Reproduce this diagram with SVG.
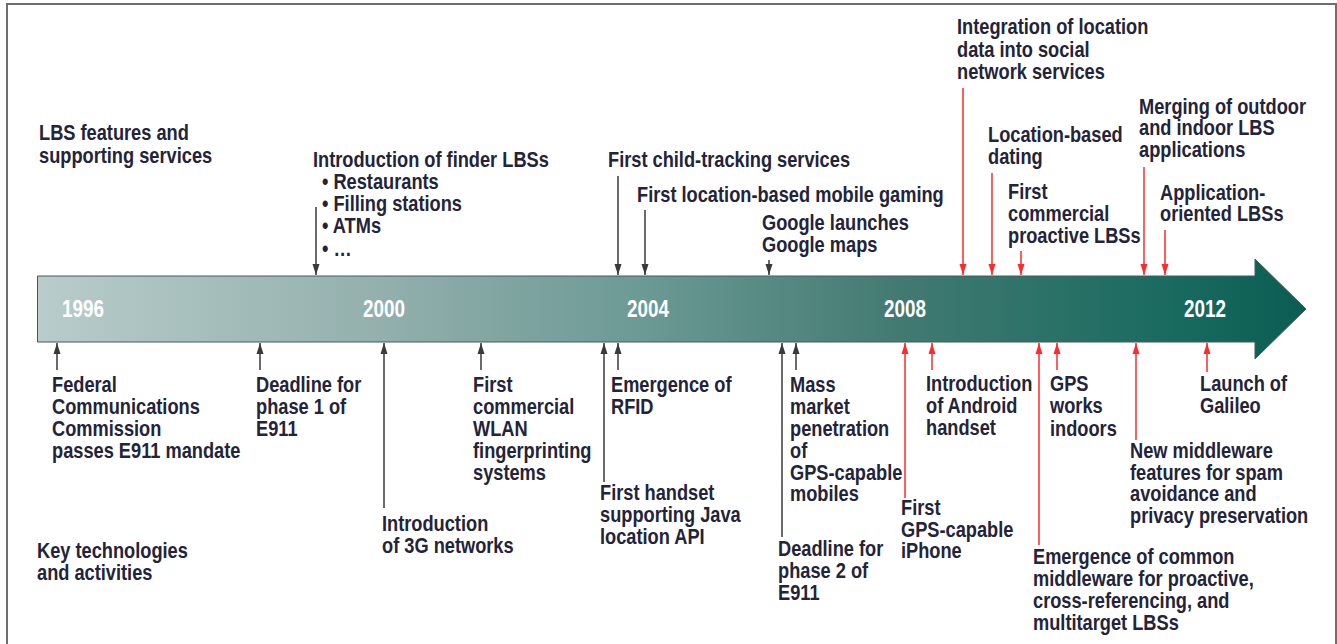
<svg xmlns="http://www.w3.org/2000/svg" width="1337" height="644" viewBox="0 0 1337 644">
  <style>
    /* condensed bold labels: Liberation Sans Bold squeezed horizontally via the transform on each text */
    .t { font-family: "Liberation Sans", Arial, sans-serif; font-weight: bold; font-size: 22.5px; fill: #23233a; }
    .yr { font-family: "Liberation Sans", Arial, sans-serif; font-weight: bold; font-size: 23px; fill: #ffffff; text-anchor: middle; }
    .blk { stroke: #3a3a3a; stroke-width: 1.5; fill: none; marker-end: url(#headBlk); }
    .red { stroke: #ff2a2a; stroke-width: 1.5; fill: none; marker-end: url(#headRed); }
  </style>
  <defs>
    <linearGradient id="barFill" gradientUnits="userSpaceOnUse" x1="37" y1="0" x2="1306" y2="0">
      <stop offset="0" stop-color="#b8cccb"/>
      <stop offset="0.27" stop-color="#93b0ad"/>
      <stop offset="0.48" stop-color="#6b9994"/>
      <stop offset="0.68" stop-color="#427a72"/>
      <stop offset="0.9" stop-color="#186a5f"/>
      <stop offset="1" stop-color="#0a5d52"/>
    </linearGradient>
    <marker id="headBlk" markerUnits="userSpaceOnUse" markerWidth="11" markerHeight="8" refX="11" refY="4" orient="auto">
      <path d="M0,0.5 L11,4 L0,7.5 z" fill="#3a3a3a"/>
    </marker>
    <marker id="headRed" markerUnits="userSpaceOnUse" markerWidth="11" markerHeight="8" refX="11" refY="4" orient="auto">
      <path d="M0,0.5 L11,4 L0,7.5 z" fill="#ff2a2a"/>
    </marker>
  </defs>

  <!-- outer frame -->
  <rect x="0" y="0" width="1337" height="644" fill="#ffffff"/>
  <rect x="7" y="4" width="1329" height="680" fill="none" stroke="#6e6e6e" stroke-width="2"/>

  <!-- timeline arrow -->
  <g id="timeline">
    <path d="M37.5,276 H1255 V259 L1306,309 L1255,359 V342 H37.5 Z" fill="url(#barFill)" stroke="#4b5a58" stroke-width="1"/>
    <text class="yr" transform="translate(83 0) scale(0.82 1)" x="0" y="317">1996</text>
    <text class="yr" transform="translate(384 0) scale(0.82 1)" x="0" y="317">2000</text>
    <text class="yr" transform="translate(648 0) scale(0.82 1)" x="0" y="317">2004</text>
    <text class="yr" transform="translate(905 0) scale(0.82 1)" x="0" y="317">2008</text>
    <text class="yr" transform="translate(1205 0) scale(0.82 1)" x="0" y="317">2012</text>
  </g>

  <!-- row headings -->
  <g id="heading-services">
    <text class="t" transform="translate(39 0) scale(0.81 1)"><tspan x="0" y="140">LBS features and</tspan><tspan x="0" y="163">supporting services</tspan></text>
  </g>
  <g id="heading-technologies">
    <text class="t" transform="translate(37 0) scale(0.81 1)"><tspan x="0" y="558">Key technologies</tspan><tspan x="0" y="580">and activities</tspan></text>
  </g>

  <!-- connectors -->
  <g id="connectors">
    <!-- services, above the bar -->
    <line class="blk" x1="316" y1="207" x2="316" y2="275"/>
    <line class="blk" x1="618" y1="176" x2="618" y2="275"/>
    <line class="blk" x1="645" y1="210" x2="645" y2="275"/>
    <line class="blk" x1="769" y1="260" x2="769" y2="275"/>
    <line class="red" x1="963" y1="88" x2="963" y2="275"/>
    <line class="red" x1="992" y1="173" x2="992" y2="275"/>
    <line class="red" x1="1021" y1="251" x2="1021" y2="275"/>
    <line class="red" x1="1144" y1="167" x2="1144" y2="275"/>
    <line class="red" x1="1165" y1="230" x2="1165" y2="275"/>
    <!-- technologies, below the bar -->
    <line class="blk" x1="57" y1="370" x2="57" y2="343"/>
    <line class="blk" x1="260" y1="370" x2="260" y2="343"/>
    <line class="blk" x1="384" y1="508" x2="384" y2="343"/>
    <line class="blk" x1="481" y1="370" x2="481" y2="343"/>
    <line class="blk" x1="604" y1="482" x2="604" y2="343"/>
    <line class="blk" x1="618" y1="370" x2="618" y2="343"/>
    <line class="blk" x1="782" y1="537" x2="782" y2="343"/>
    <line class="blk" x1="796" y1="370" x2="796" y2="343"/>
    <line class="red" x1="905" y1="498" x2="905" y2="343"/>
    <line class="red" x1="932" y1="370" x2="932" y2="343"/>
    <line class="red" x1="1039" y1="545" x2="1039" y2="343"/>
    <line class="red" x1="1057" y1="370" x2="1057" y2="343"/>
    <line class="red" x1="1136" y1="440" x2="1136" y2="343"/>
    <line class="red" x1="1207" y1="372" x2="1207" y2="343"/>
  </g>

  <!-- services -->
  <g id="finder-lbs">
    <text class="t" transform="translate(313 0) scale(0.81 1)"><tspan x="0" y="167">Introduction of finder LBSs</tspan></text>
    <text class="t" transform="translate(322 0) scale(0.81 1)"><tspan x="0" y="189">• Restaurants</tspan><tspan x="0" y="211">• Filling stations</tspan><tspan x="0" y="233">• ATMs</tspan><tspan x="0" y="256">• …</tspan></text>
  </g>
  <g id="child-tracking">
    <text class="t" transform="translate(608 0) scale(0.81 1)"><tspan x="0" y="167">First child-tracking services</tspan></text>
  </g>
  <g id="mobile-gaming">
    <text class="t" transform="translate(637 0) scale(0.81 1)"><tspan x="0" y="202">First location-based mobile gaming</tspan></text>
  </g>
  <g id="google-maps">
    <text class="t" transform="translate(762 0) scale(0.81 1)"><tspan x="0" y="230">Google launches</tspan><tspan x="0" y="252">Google maps</tspan></text>
  </g>
  <g id="social-networks">
    <text class="t" transform="translate(957 0) scale(0.81 1)"><tspan x="0" y="34">Integration of location</tspan><tspan x="0" y="57">data into social</tspan><tspan x="0" y="79">network services</tspan></text>
  </g>
  <g id="dating">
    <text class="t" transform="translate(988 0) scale(0.81 1)"><tspan x="0" y="142">Location-based</tspan><tspan x="0" y="164">dating</tspan></text>
  </g>
  <g id="proactive-lbs">
    <text class="t" transform="translate(1008 0) scale(0.81 1)"><tspan x="0" y="199">First</tspan><tspan x="0" y="221">commercial</tspan><tspan x="0" y="243">proactive LBSs</tspan></text>
  </g>
  <g id="outdoor-indoor">
    <text class="t" transform="translate(1139 0) scale(0.81 1)"><tspan x="0" y="114">Merging of outdoor</tspan><tspan x="0" y="135">and indoor LBS</tspan><tspan x="0" y="157">applications</tspan></text>
  </g>
  <g id="application-oriented">
    <text class="t" transform="translate(1160 0) scale(0.81 1)"><tspan x="0" y="200">Application-</tspan><tspan x="0" y="221">oriented LBSs</tspan></text>
  </g>

  <!-- technologies -->
  <g id="e911-mandate">
    <text class="t" transform="translate(52 0) scale(0.81 1)"><tspan x="0" y="392">Federal</tspan><tspan x="0" y="414">Communications</tspan><tspan x="0" y="436">Commission</tspan><tspan x="0" y="458">passes E911 mandate</tspan></text>
  </g>
  <g id="e911-phase1">
    <text class="t" transform="translate(256 0) scale(0.81 1)"><tspan x="0" y="392">Deadline for</tspan><tspan x="0" y="414">phase 1 of</tspan><tspan x="0" y="436">E911</tspan></text>
  </g>
  <g id="networks-3g">
    <text class="t" transform="translate(382 0) scale(0.81 1)"><tspan x="0" y="531">Introduction</tspan><tspan x="0" y="553">of 3G networks</tspan></text>
  </g>
  <g id="wlan-fingerprinting">
    <text class="t" transform="translate(473 0) scale(0.81 1)"><tspan x="0" y="392">First</tspan><tspan x="0" y="414">commercial</tspan><tspan x="0" y="436">WLAN</tspan><tspan x="0" y="458">fingerprinting</tspan><tspan x="0" y="480">systems</tspan></text>
  </g>
  <g id="java-location-api">
    <text class="t" transform="translate(600 0) scale(0.81 1)"><tspan x="0" y="500">First handset</tspan><tspan x="0" y="522">supporting Java</tspan><tspan x="0" y="544">location API</tspan></text>
  </g>
  <g id="rfid">
    <text class="t" transform="translate(611 0) scale(0.81 1)"><tspan x="0" y="392">Emergence of</tspan><tspan x="0" y="414">RFID</tspan></text>
  </g>
  <g id="e911-phase2">
    <text class="t" transform="translate(778 0) scale(0.81 1)"><tspan x="0" y="556">Deadline for</tspan><tspan x="0" y="578">phase 2 of</tspan><tspan x="0" y="600">E911</tspan></text>
  </g>
  <g id="gps-mobiles">
    <text class="t" transform="translate(790 0) scale(0.81 1)"><tspan x="0" y="392">Mass</tspan><tspan x="0" y="414">market</tspan><tspan x="0" y="436">penetration</tspan><tspan x="0" y="458">of</tspan><tspan x="0" y="480">GPS-capable</tspan><tspan x="0" y="501">mobiles</tspan></text>
  </g>
  <g id="gps-iphone">
    <text class="t" transform="translate(901 0) scale(0.81 1)"><tspan x="0" y="515">First</tspan><tspan x="0" y="537">GPS-capable</tspan><tspan x="0" y="558">iPhone</tspan></text>
  </g>
  <g id="android">
    <text class="t" transform="translate(926 0) scale(0.81 1)"><tspan x="0" y="391">Introduction</tspan><tspan x="0" y="413">of Android</tspan><tspan x="0" y="435">handset</tspan></text>
  </g>
  <g id="common-middleware">
    <text class="t" transform="translate(1033 0) scale(0.81 1)"><tspan x="0" y="564">Emergence of common</tspan><tspan x="0" y="586">middleware for proactive,</tspan><tspan x="0" y="608">cross-referencing, and</tspan><tspan x="0" y="630">multitarget LBSs</tspan></text>
  </g>
  <g id="gps-indoors">
    <text class="t" transform="translate(1050 0) scale(0.81 1)"><tspan x="0" y="391">GPS</tspan><tspan x="0" y="413">works</tspan><tspan x="0" y="436">indoors</tspan></text>
  </g>
  <g id="new-middleware">
    <text class="t" transform="translate(1130 0) scale(0.81 1)"><tspan x="0" y="458">New middleware</tspan><tspan x="0" y="480">features for spam</tspan><tspan x="0" y="501">avoidance and</tspan><tspan x="0" y="523">privacy preservation</tspan></text>
  </g>
  <g id="galileo">
    <text class="t" transform="translate(1200 0) scale(0.81 1)"><tspan x="0" y="391">Launch of</tspan><tspan x="0" y="413">Galileo</tspan></text>
  </g>
</svg>
